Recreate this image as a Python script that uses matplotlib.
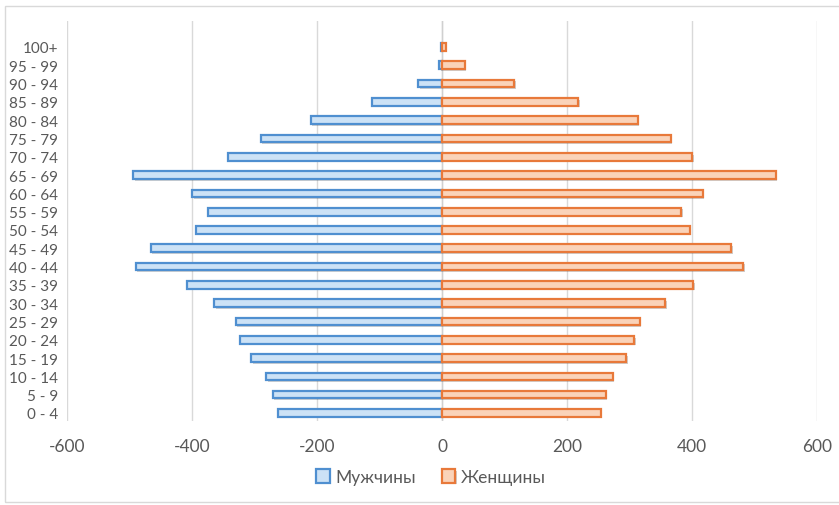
import matplotlib
matplotlib.use("Agg")
from matplotlib import pyplot as plt
from matplotlib import patheffects as pe
from matplotlib.patches import Rectangle
import numpy as np

# age groups, bottom to top
ages = ["0 - 4", "5 - 9", "10 - 14", "15 - 19", "20 - 24", "25 - 29", "30 - 34",
        "35 - 39", "40 - 44", "45 - 49", "50 - 54", "55 - 59", "60 - 64",
        "65 - 69", "70 - 74", "75 - 79", "80 - 84", "85 - 89", "90 - 94",
        "95 - 99", "100+"]
men = [-263, -271, -281, -305, -323, -330, -365, -408, -490, -466, -394,
       -375, -400, -494, -343, -290, -210, -112, -38, -5, -1]
women = [254, 262, 273, 295, 307, 316, 357, 402, 482, 463, 396, 383, 417,
         534, 400, 366, 313, 218, 115, 36, 6]
xticks = [-600, -400, -200, 0, 200, 400, 600]

grey = "#595959"
plt.rcParams['font.family'] = ['Lato', 'DejaVu Sans']

fig = plt.figure(figsize=(8.39, 5.06), dpi=100)
ax = fig.add_axes([67 / 839, 1 - 422 / 506, 750 / 839, 400 / 506])

y = np.arange(len(ages))
shadow = [pe.SimplePatchShadow(offset=(1.2, -1.2), alpha=0.25), pe.Normal()]
ax.barh(y, men, height=0.42, color="#CCE2F6", edgecolor="#4F8FD0",
        linewidth=1.6, label="Мужчины", path_effects=shadow, zorder=3)
ax.barh(y, women, height=0.42, color="#FAD3B9", edgecolor="#E8793A",
        linewidth=1.6, label="Женщины", path_effects=shadow, zorder=3)

ax.set_xlim(-600, 600)
ax.set_ylim(-0.44, len(ages) + 0.42)
ax.set_xticks(xticks)
ax.set_xticklabels([str(v) for v in xticks])
ax.set_yticks(y)
ax.set_yticklabels(ages)
ax.tick_params(axis="x", length=0, pad=12, labelsize=12.5, labelcolor=grey)
ax.tick_params(axis="y", length=0, pad=6.5, labelsize=11, labelcolor=grey)
ax.grid(axis="x", color="#D9D9D9", linewidth=1, zorder=0)
ax.axvline(0, color="#D0D0D0", linewidth=1, zorder=2)
for s in ax.spines.values():
    s.set_visible(False)

leg = ax.legend(loc="center", bbox_to_anchor=(0.485, -0.14), ncol=2,
                frameon=False, fontsize=12.5, handlelength=0.8,
                handleheight=0.8, handletextpad=0.3, columnspacing=1.5)
for t in leg.get_texts():
    t.set_color(grey)

# outer chart border
fig.patches.append(Rectangle((5 / 839, 3 / 506), 1.2, 496 / 506, fill=False,
                             edgecolor="#D9D9D9", linewidth=1,
                             transform=fig.transFigure, figure=fig))

fig.savefig("out.png", dpi=100)
